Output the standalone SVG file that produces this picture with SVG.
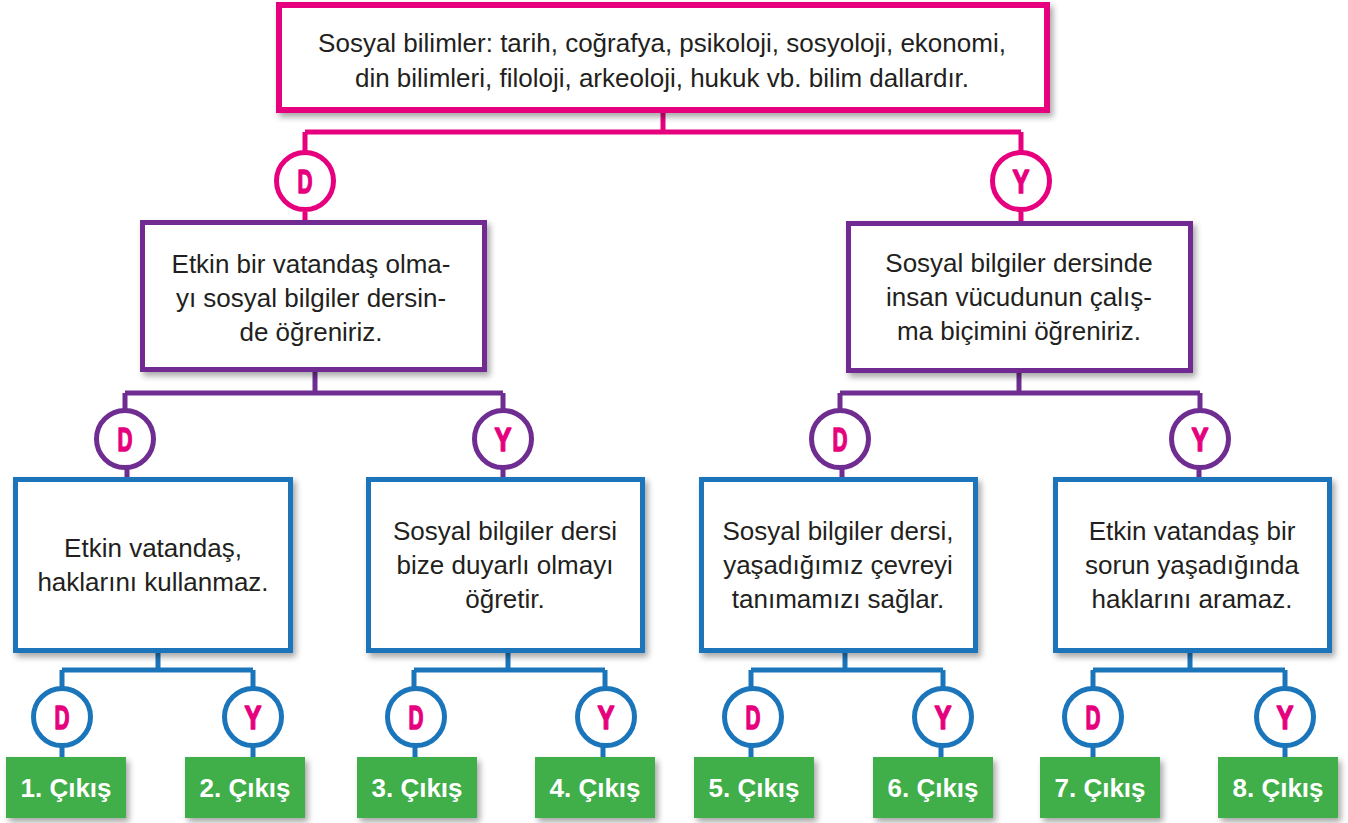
<svg xmlns="http://www.w3.org/2000/svg" width="1348" height="823" viewBox="0 0 1348 823">
<style>
.txt{font-family:"Liberation Sans",Arial,sans-serif;font-size:26px;fill:#231f20;text-anchor:middle}
.out{font-family:"Liberation Sans",Arial,sans-serif;font-size:26px;font-weight:bold;fill:#ffffff;text-anchor:middle}
.lbl{font-family:"Liberation Sans",Arial,sans-serif;font-size:34px;font-weight:bold;fill:#e6007e;stroke:#e6007e;stroke-width:1.5;stroke-linejoin:round;text-anchor:middle}
.pk{stroke:#e6007e}
.pu{stroke:#6f2c91}
.bl{stroke:#1b75bb}
.box{fill:#ffffff;filter:url(#sh)}
.cir{fill:#ffffff;stroke-width:5}
.ln{fill:none;stroke-width:5}
.gr{fill:#3fae49;filter:url(#sh)}
</style>
<defs>
<filter id="sh" x="-10%" y="-10%" width="125%" height="130%">
<feDropShadow dx="3" dy="4" stdDeviation="3" flood-color="#000" flood-opacity="0.35"/>
</filter>
</defs>
<rect width="1348" height="823" fill="#ffffff"/>
<g id="connectors">
<path class="ln pk" d="M663 113V132M305 132H1021M305 132V152M1021 132V152M305 212V221M1021 212V222"/>
<path class="ln pu" d="M315 372V393M125 393H503M125 393V409M503 393V409M127 469V478M503 469V478"/>
<path class="ln pu" d="M1019 373V393M840 393H1200M840 393V409M1200 393V409M842 469V478M1199 469V478"/>
<path class="ln bl" d="M158 653V670M62 670H253M62 670V688M253 670V688M62 747V758M253 747V758"/>
<path class="ln bl" d="M508 653V670M414 670H605M414 670V688M605 670V688M415 747V758M603 747V758"/>
<path class="ln bl" d="M845 653V670M751 670H943M751 670V688M943 670V688M751 747V758M941 747V758"/>
<path class="ln bl" d="M1190 653V670M1093 670H1285M1093 670V688M1285 670V688M1093 747V758M1285 747V758"/>
</g>
<g id="top">
<rect class="box pk" x="279" y="5" width="768" height="105" stroke-width="6"/>
<text class="txt" x="662" y="52">Sosyal bilimler: tarih, coğrafya, psikoloji, sosyoloji, ekonomi,</text>
<text class="txt" x="662" y="87">din bilimleri, filoloji, arkeoloji, hukuk vb. bilim dallardır.</text>
</g>
<g id="c1d"><circle class="cir pk" cx="305" cy="181" r="28.5"/><text class="lbl" x="305" y="193" textLength="15" lengthAdjust="spacingAndGlyphs">D</text></g>
<g id="c1y"><circle class="cir pk" cx="1021" cy="181" r="28.5"/><text class="lbl" x="1021" y="193" textLength="17" lengthAdjust="spacingAndGlyphs">Y</text></g>
<g id="p1">
<rect class="box pu" x="142.5" y="222.5" width="342" height="147" stroke-width="5"/>
<text class="txt" x="311" y="273">Etkin bir vatandaş olma-</text>
<text class="txt" x="311" y="307">yı sosyal bilgiler dersin-</text>
<text class="txt" x="311" y="341">de öğreniriz.</text>
</g>
<g id="p2">
<rect class="box pu" x="848.5" y="223.5" width="342" height="147" stroke-width="5"/>
<text class="txt" x="1019" y="272">Sosyal bilgiler dersinde</text>
<text class="txt" x="1019" y="306">insan vücudunun çalış-</text>
<text class="txt" x="1019" y="340">ma biçimini öğreniriz.</text>
</g>
<g id="c2d"><circle class="cir pu" cx="125" cy="439" r="28.5"/><text class="lbl" x="125" y="451" textLength="15" lengthAdjust="spacingAndGlyphs">D</text></g>
<g id="c2y"><circle class="cir pu" cx="503" cy="439" r="28.5"/><text class="lbl" x="503" y="451" textLength="17" lengthAdjust="spacingAndGlyphs">Y</text></g>
<g id="c3d"><circle class="cir pu" cx="840" cy="439" r="28.5"/><text class="lbl" x="840" y="451" textLength="15" lengthAdjust="spacingAndGlyphs">D</text></g>
<g id="c3y"><circle class="cir pu" cx="1200" cy="439" r="28.5"/><text class="lbl" x="1200" y="451" textLength="17" lengthAdjust="spacingAndGlyphs">Y</text></g>
<g id="b1">
<rect class="box bl" x="15.5" y="479.5" width="275" height="171" stroke-width="5"/>
<text class="txt" x="153" y="557">Etkin vatandaş,</text>
<text class="txt" x="153" y="591">haklarını kullanmaz.</text>
</g>
<g id="b2">
<rect class="box bl" x="368.5" y="479.5" width="274" height="171" stroke-width="5"/>
<text class="txt" x="505" y="540">Sosyal bilgiler dersi</text>
<text class="txt" x="505" y="574">bize duyarlı olmayı</text>
<text class="txt" x="505" y="608">öğretir.</text>
</g>
<g id="b3">
<rect class="box bl" x="701.5" y="479.5" width="274" height="171" stroke-width="5"/>
<text class="txt" x="838" y="540">Sosyal bilgiler dersi,</text>
<text class="txt" x="838" y="574">yaşadığımız çevreyi</text>
<text class="txt" x="838" y="608">tanımamızı sağlar.</text>
</g>
<g id="b4">
<rect class="box bl" x="1055.5" y="479.5" width="274" height="171" stroke-width="5"/>
<text class="txt" x="1192" y="540">Etkin vatandaş bir</text>
<text class="txt" x="1192" y="574">sorun yaşadığında</text>
<text class="txt" x="1192" y="608">haklarını aramaz.</text>
</g>
<g id="d1"><circle class="cir bl" cx="62" cy="717" r="28.5"/><text class="lbl" x="62" y="729" textLength="15" lengthAdjust="spacingAndGlyphs">D</text></g>
<g id="y1"><circle class="cir bl" cx="253" cy="717" r="28.5"/><text class="lbl" x="253" y="729" textLength="17" lengthAdjust="spacingAndGlyphs">Y</text></g>
<g id="d2"><circle class="cir bl" cx="416" cy="717" r="28.5"/><text class="lbl" x="416" y="729" textLength="15" lengthAdjust="spacingAndGlyphs">D</text></g>
<g id="y2"><circle class="cir bl" cx="606" cy="717" r="28.5"/><text class="lbl" x="606" y="729" textLength="17" lengthAdjust="spacingAndGlyphs">Y</text></g>
<g id="d3"><circle class="cir bl" cx="753" cy="717" r="28.5"/><text class="lbl" x="753" y="729" textLength="15" lengthAdjust="spacingAndGlyphs">D</text></g>
<g id="y3"><circle class="cir bl" cx="943" cy="717" r="28.5"/><text class="lbl" x="943" y="729" textLength="17" lengthAdjust="spacingAndGlyphs">Y</text></g>
<g id="d4"><circle class="cir bl" cx="1093" cy="717" r="28.5"/><text class="lbl" x="1093" y="729" textLength="15" lengthAdjust="spacingAndGlyphs">D</text></g>
<g id="y4"><circle class="cir bl" cx="1285" cy="717" r="28.5"/><text class="lbl" x="1285" y="729" textLength="17" lengthAdjust="spacingAndGlyphs">Y</text></g>
<g id="o1"><rect class="gr" x="6" y="757" width="120" height="61"/><text class="out" x="66" y="797">1. Çıkış</text></g>
<g id="o2"><rect class="gr" x="185" y="757" width="120" height="61"/><text class="out" x="245" y="797">2. Çıkış</text></g>
<g id="o3"><rect class="gr" x="357" y="757" width="120" height="61"/><text class="out" x="417" y="797">3. Çıkış</text></g>
<g id="o4"><rect class="gr" x="535" y="757" width="120" height="61"/><text class="out" x="595" y="797">4. Çıkış</text></g>
<g id="o5"><rect class="gr" x="694" y="757" width="120" height="61"/><text class="out" x="754" y="797">5. Çıkış</text></g>
<g id="o6"><rect class="gr" x="873" y="757" width="120" height="61"/><text class="out" x="933" y="797">6. Çıkış</text></g>
<g id="o7"><rect class="gr" x="1040" y="757" width="120" height="61"/><text class="out" x="1100" y="797">7. Çıkış</text></g>
<g id="o8"><rect class="gr" x="1218" y="757" width="120" height="61"/><text class="out" x="1278" y="797">8. Çıkış</text></g>
</svg>
